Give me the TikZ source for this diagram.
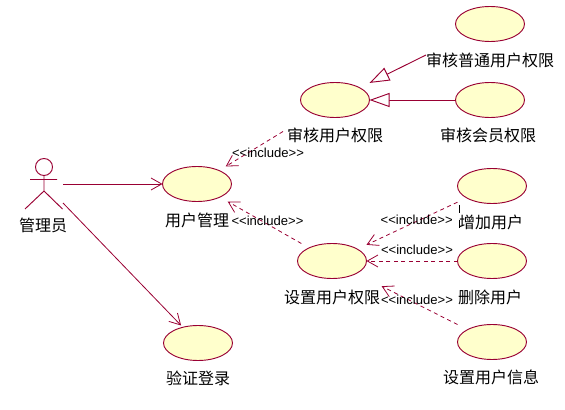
\documentclass[tikz,border=0pt]{standalone}
\usepackage{fontspec}
\setmainfont{Liberation Sans}
\newfontfamily\cjkfont{Noto Sans CJK SC}
\usepackage{xcolor}
\usepackage{tikz}
\usetikzlibrary{shapes.geometric, arrows.meta}
\definecolor{roseline}{HTML}{990033}
\definecolor{rosefill}{HTML}{FFFFCC}
\tikzset{
    caseoval/.style={ellipse, draw=roseline, fill=rosefill, line width=0.7pt, minimum width=51.75pt, minimum height=26.25pt, inner sep=0pt, outer sep=0pt},
    casebox/.style={rectangle, minimum width=51.75pt, minimum height=26.25pt, inner sep=0pt, outer sep=0pt},
    caselabel/.style={font=\cjkfont\fontsize{12}{14}\selectfont, inner sep=0pt},
    linklabel/.style={font=\fontsize{9.8}{11}\selectfont, inner sep=0pt},
    assoc/.style={draw=roseline, line width=0.6pt, -{Straight Barb[length=8pt,width=9pt]}},
    incl/.style={draw=roseline, line width=0.6pt, dash pattern=on 3pt off 2.6pt, -{Straight Barb[length=8pt,width=9pt]}},
    general/.style={draw=roseline, line width=0.7pt, -{Triangle[open,fill=white,length=15pt,width=10.5pt]}},
}

\begin{document}
\begin{tikzpicture}[x=0.75pt, y=-0.75pt]
    \useasboundingbox (0,0) rectangle (565,410);
    % Use cases
    \foreach \name/\x/\y in {common/490/24, audit/335/100, member/490/100, mgr/197/184, add/492/186,
        perm/332/261, del/492/261, info/492/342, login/198/343} {
        \node[caseoval] (\name-oval) at (\x,\y) {};
        \node[casebox] (\name) at (\x,\y) {};
    }
    % Labels
    \foreach \name/\x/\y/\txt in {common/490/60/审核普通用户权限, audit/335/135/审核用户权限, member/488/135/审核会员权限,
        mgr/197/220/用户管理, add/491/222/增加用户, perm/332/297/设置用户权限, del/490/297/删除用户,
        info/491/377/设置用户信息, login/198/378/验证登录, actor/43/225/管理员} {
        \node[caselabel] (lbl-\name) at (\x,\y) {\txt};
    }
    % Actor
    \draw[roseline, line width=0.7pt] (44,167) circle (8.5);
    \draw[roseline, line width=0.7pt] (44,175.5) -- (44,191) (30,179.5) -- (57,179.5) (25,209) -- (44,191) -- (62.5,209);
    \coordinate (actor-hand) at (63,184);
    \coordinate (actor-foot) at (63,203);
    % Ends cut by the labels
    \coordinate (common-end) at (426,55);
    \coordinate (audit-end) at (283,131.5);
    \coordinate (perm-end) at (381.7,286.2);
    % Associations
    \draw[assoc] (actor-hand) -- (mgr);
    \draw[assoc] (actor-foot) -- (login);
    % Generalizations
    \draw[general] (common-end) -- (audit);
    \draw[general] (member) -- (audit);
    % Includes
    \draw[incl] (audit-end) -- (mgr);
    \draw[incl] (perm) -- (mgr);
    \draw[incl] (add) -- (perm);
    \draw[incl] (del) -- (perm);
    \draw[incl] (info) -- (perm-end);
    \foreach \name/\x/\y in {audit/268/152.5, mgr/267.5/221, add/416.7/219.5, del/417/250, info/417/299.5} {
        \node[linklabel] (incl-\name) at (\x,\y) {<{}<include>{}>};
    }
    % Cursor mark
    \draw[black, line width=0.6pt, dash pattern=on 6pt off 5pt] (459,205) -- (459,232);
\end{tikzpicture}
\end{document}
